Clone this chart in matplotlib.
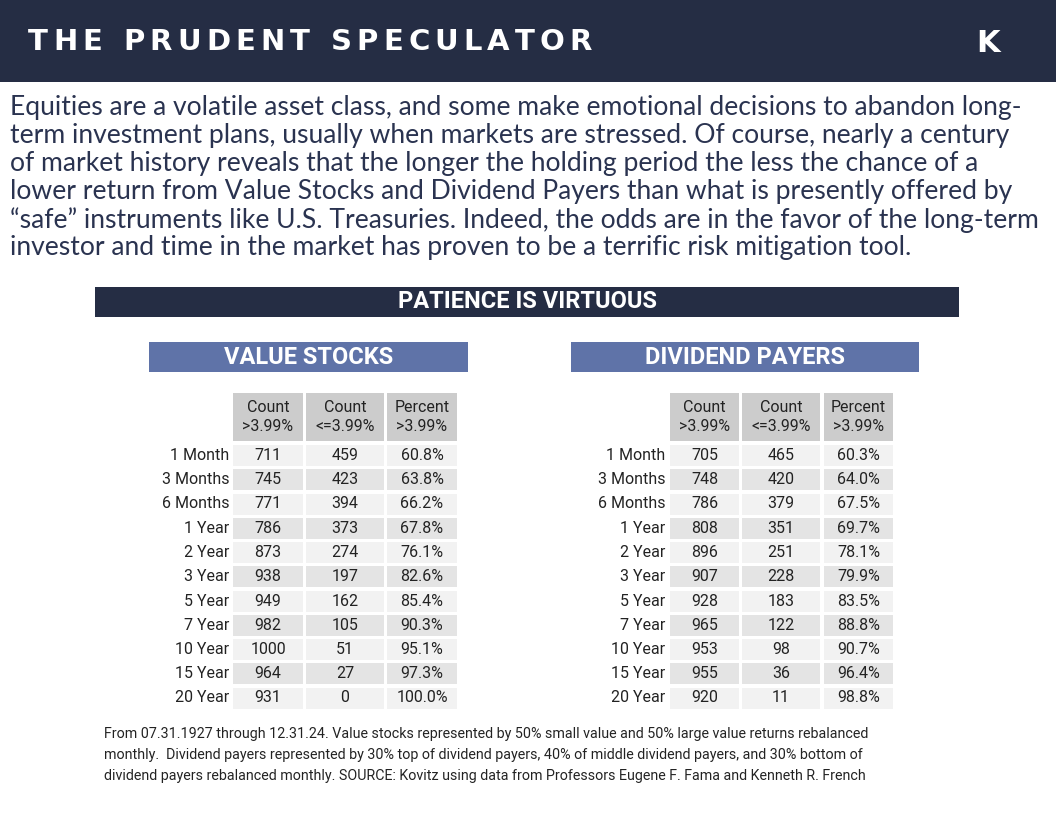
import matplotlib
matplotlib.use("Agg")
import matplotlib.pyplot as plt
from matplotlib.patches import Rectangle

periods = ["1 Month", "3 Months", "6 Months", "1 Year", "2 Year", "3 Year",
           "5 Year", "7 Year", "10 Year", "15 Year", "20 Year"]
value_above = [711, 745, 771, 786, 873, 938, 949, 982, 1000, 964, 931]
value_below = [459, 423, 394, 373, 274, 197, 162, 105, 51, 27, 0]
value_pct = ["60.8%", "63.8%", "66.2%", "67.8%", "76.1%", "82.6%", "85.4%", "90.3%", "95.1%", "97.3%", "100.0%"]
div_above = [705, 748, 786, 808, 896, 907, 928, 965, 953, 955, 920]
div_below = [465, 420, 379, 351, 251, 228, 183, 122, 98, 36, 11]
div_pct = ["60.3%", "64.0%", "67.5%", "69.7%", "78.1%", "79.9%", "83.5%", "88.8%", "90.7%", "96.4%", "98.8%"]
col_headers = ["Count\n>3.99%", "Count\n<=3.99%", "Percent\n>3.99%"]

paragraph = [
    "Equities are a volatile asset class, and some make emotional decisions to abandon long-",
    "term investment plans, usually when markets are stressed. Of course, nearly a century",
    "of market history reveals that the longer the holding period the less the chance of a",
    "lower return from Value Stocks and Dividend Payers than what is presently offered by",
    "\u201csafe\u201d instruments like U.S. Treasuries. Indeed, the odds are in the favor of the long-term",
    "investor and time in the market has proven to be a terrific risk mitigation tool.",
]
footer = [
    "From 07.31.1927 through 12.31.24. Value stocks represented by 50% small value and 50% large value returns rebalanced",
    "monthly.  Dividend payers represented by 30% top of dividend payers, 40% of middle dividend payers, and 30% bottom of",
    "dividend payers rebalanced monthly. SOURCE: Kovitz using data from Professors Eugene F. Fama and Kenneth R. French",
]

NAVY = "#252d44"
BLUE = "#5f73a8"
TXT = "#222222"
COND = "Roboto"

fig = plt.figure(figsize=(10.56, 8.16), dpi=100)
ax = fig.add_axes([0, 0, 1, 1])
ax.set_xlim(0, 1056)
ax.set_ylim(816, 0)
ax.axis("off")

def rect(x0, y0, x1, y1, c):
    ax.add_patch(Rectangle((x0, y0), x1 - x0, y1 - y0, color=c, lw=0))

rect(0, 0, 1056, 82, NAVY)
title = "THE PRUDENT SPECULATOR"
x = 28
fig.canvas.draw()
r = fig.canvas.get_renderer()
for ch in title:
    t = ax.text(x, 42, ch, color="white", fontsize=21, fontweight="bold",
                family="DejaVu Sans", va="center", ha="left")
    w = 11 if ch == " " else t.get_window_extent(renderer=r).width
    x += w + 5.1
ax.text(988, 44, "K", color="white", fontsize=22, fontweight="bold", va="center", ha="center",
        family="DejaVu Sans")

for i, line in enumerate(paragraph):
    ax.text(10, 108 + i * 28, line, fontsize=19.1, color="#2a3350", family="Lato",
            va="center", ha="left")

rect(95, 287, 959, 317, NAVY)
ax.text(527, 302, "PATIENCE IS VIRTUOUS", color="white", fontsize=17, fontweight="bold",
        family=COND, va="center", ha="center")

def table(bx0, bx1, name, label_x, cols, above, below, pct):
    rect(bx0, 342, bx1, 372, BLUE)
    ax.text((bx0 + bx1) / 2, 357, name, color="white", fontsize=17, fontweight="bold",
            family=COND, va="center", ha="center")
    for (c0, c1), h in zip(cols, col_headers):
        rect(c0, 393, c1, 441, "#cccccc")
        ax.text((c0 + c1) / 2, 417, h, fontsize=11.5, color=TXT, family=COND,
                va="center", ha="center", linespacing=1.4)
    for i, p in enumerate(periods):
        yc = 455.5 + i * 24.25
        bg = "#f2f2f2" if i % 2 == 0 else "#e4e4e4"
        ax.text(label_x, yc, p, fontsize=11.5, color=TXT, family=COND, va="center", ha="right")
        vals = [str(above[i]), str(below[i]), pct[i]]
        for (c0, c1), v in zip(cols, vals):
            rect(c0, yc - 10.5, c1, yc + 10.5, bg)
            ax.text((c0 + c1) / 2, yc, v, fontsize=11.5, color=TXT, family=COND,
                    va="center", ha="center")

table(149, 468, "VALUE STOCKS", 229, [(233, 303), (306, 384), (387, 457)],
      value_above, value_below, value_pct)
table(571, 919, "DIVIDEND PAYERS", 665, [(670, 739), (742, 820), (824, 893)],
      div_above, div_below, div_pct)

for i, line in enumerate(footer):
    ax.text(104, 734 + i * 21, line, fontsize=10.3, color=TXT, family=COND, va="center", ha="left")

fig.savefig("out.png", dpi=100, facecolor="white")
